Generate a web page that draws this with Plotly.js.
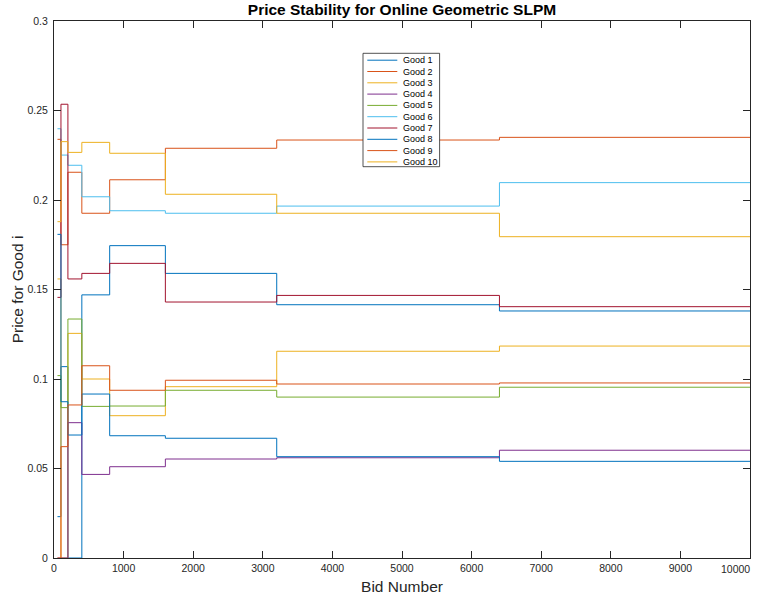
<!DOCTYPE html>
<html>
<head>
<meta charset="utf-8">
<script src="https://cdn.plot.ly/plotly-3.0.1.min.js"></script>
<style>html,body{margin:0;padding:0;background:#fff;}</style>
</head>
<body>
<div id="chart" style="width:763px;height:601px;"></div>
<script>
// Bid numbers at which the price changes (stairs), last entry is the end of the run
const bidNumbers = [50, 100, 200, 400, 800, 1600, 3200, 6400, 10000];

const goodNames = ['Good 1', 'Good 2', 'Good 3', 'Good 4', 'Good 5',
                   'Good 6', 'Good 7', 'Good 8', 'Good 9', 'Good 10'];

// price level held from each bid number until the next one
const good1  = [0.0231, 0.1069, 0.0000, 0.1470, 0.1745, 0.1590, 0.1415, 0.1380];
const good2  = [0.2339, 0.1750, 0.2155, 0.1926, 0.2113, 0.2289, 0.2335, 0.2350];
const good3  = [0.1559, 0.0000, 0.1255, 0.1000, 0.0795, 0.0957, 0.1155, 0.1184];
const good4  = [0.0000, 0.0000, 0.0756, 0.0467, 0.0510, 0.0553, 0.0560, 0.0602];
const good5  = [0.1019, 0.0840, 0.1335, 0.0847, 0.0849, 0.0937, 0.0899, 0.0954];
const good6  = [0.2398, 0.2251, 0.2194, 0.2018, 0.1940, 0.1926, 0.1966, 0.2097];
const good7  = [0.1456, 0.2535, 0.1559, 0.1590, 0.1646, 0.1430, 0.1467, 0.1404];
const good8  = [0.1808, 0.0873, 0.0687, 0.0916, 0.0683, 0.0669, 0.0566, 0.0540];
const good9  = [0.0000, 0.0622, 0.0855, 0.1074, 0.0937, 0.0993, 0.0972, 0.0978];
const good10 = [0.1879, 0.2326, 0.2266, 0.2322, 0.2261, 0.2032, 0.1926, 0.1795];

const goodsSeries = [good1, good2, good3, good4, good5, good6, good7, good8, good9, good10];

const xTickVals = [0, 1000, 2000, 3000, 4000, 5000, 6000, 7000, 8000, 9000, 10000];
const xTickText = ['0', '1000', '2000', '3000', '4000', '5000', '6000', '7000', '8000', '9000', '10000'];
const yTickVals = [0, 0.05, 0.1, 0.15, 0.2, 0.25, 0.3];
const yTickText = ['0', '0.05', '0.1', '0.15', '0.2', '0.25', '0.3'];

const matlabColors = ['#0072BD', '#D95319', '#EDB120', '#7E2F8E', '#77AC30', '#4DBEEE', '#A2142F'];

const FONT = 'Liberation Sans, Arial, Helvetica, sans-serif';
const AXC = '#262626';

const traces = goodsSeries.map((vals, i) => ({
  type: 'scatter',
  mode: 'lines',
  name: goodNames[i],
  x: bidNumbers,
  y: vals.concat([vals[vals.length - 1]]),
  line: {shape: 'hv', width: 1, color: matlabColors[i % matlabColors.length]},
  showlegend: false,
  hoverinfo: 'x+y+name'
}));

// the last x label is right-aligned to the figure edge as in the original export,
// so it is drawn as an annotation instead of a centred tick label
const lastIdx = xTickText.length - 1;
const xTickTextShown = xTickText.map((t, i) => i === lastIdx ? '' : t);

// compact MATLAB-style legend box (paper coordinates)
const plotL = 53.7, plotR = 749.7, plotT = 21, plotB = 558;
const W = plotR - plotL, H = plotB - plotT;
const px2x = p => (p - plotL) / W;
const py2y = p => (plotB - p) / H;

const shapes = [{
  type: 'rect', xref: 'paper', yref: 'paper', layer: 'above',
  x0: px2x(362.7), x1: px2x(439.3), y0: py2y(166.7), y1: py2y(53.3),
  line: {color: AXC, width: 0.8}, fillcolor: '#ffffff'
}];
const annotations = [{
  xref: 'x', yref: 'paper', x: xTickVals[lastIdx], y: 0,
  xanchor: 'right', yanchor: 'top', xshift: 2, yshift: -2.5, showarrow: false,
  text: xTickText[lastIdx], font: {family: FONT, size: 10.5, color: AXC}
}];
goodNames.forEach((nm, i) => {
  const py = 60.2 + i * 11.3;
  shapes.push({
    type: 'line', xref: 'paper', yref: 'paper', layer: 'above',
    x0: px2x(367), x1: px2x(397), y0: py2y(py), y1: py2y(py),
    line: {color: matlabColors[i % matlabColors.length], width: 1}
  });
  annotations.push({
    xref: 'paper', yref: 'paper', x: px2x(400.5), y: py2y(py),
    xanchor: 'left', yanchor: 'middle', showarrow: false,
    text: nm, font: {family: FONT, size: 9, color: '#000'}
  });
});

const layout = {
  width: 763, height: 601,
  margin: {l: 54, r: 13, t: 21, b: 43, pad: 0},
  paper_bgcolor: '#ffffff', plot_bgcolor: '#ffffff',
  font: {family: FONT, color: AXC},
  showlegend: false,
  title: {
    text: '<b>Price Stability for Online Geometric SLPM</b>',
    font: {family: FONT, size: 15.5, color: '#000'},
    xref: 'paper', x: 0.5, xanchor: 'center',
    yref: 'container', y: 1 - 9.5 / 601, yanchor: 'middle'
  },
  xaxis: {
    range: [0, 10000], autorange: false,
    tickmode: 'array', tickvals: xTickVals, ticktext: xTickTextShown,
    ticks: 'inside', ticklen: 7, tickwidth: 1, tickcolor: AXC,
    showline: true, linecolor: AXC, linewidth: 1, mirror: 'ticks',
    showgrid: false, zeroline: false,
    tickfont: {family: FONT, size: 10.5, color: AXC},
    title: {text: 'Bid Number', font: {family: FONT, size: 15.5, color: AXC}, standoff: 8},
    automargin: false
  },
  yaxis: {
    range: [0, 0.3], autorange: false,
    tickmode: 'array', tickvals: yTickVals, ticktext: yTickText,
    ticks: 'inside', ticklen: 7, tickwidth: 1, tickcolor: AXC,
    showline: true, linecolor: AXC, linewidth: 1, mirror: 'ticks',
    showgrid: false, zeroline: false, ticklabelstandoff: 3,
    tickfont: {family: FONT, size: 10.5, color: AXC},
    title: {text: 'Price for Good i', font: {family: FONT, size: 15.5, color: AXC}, standoff: 0},
    automargin: false
  },
  shapes: shapes,
  annotations: annotations
};

Plotly.newPlot('chart', traces, layout, {displayModeBar: false, staticPlot: true});
</script>
</body>
</html>
